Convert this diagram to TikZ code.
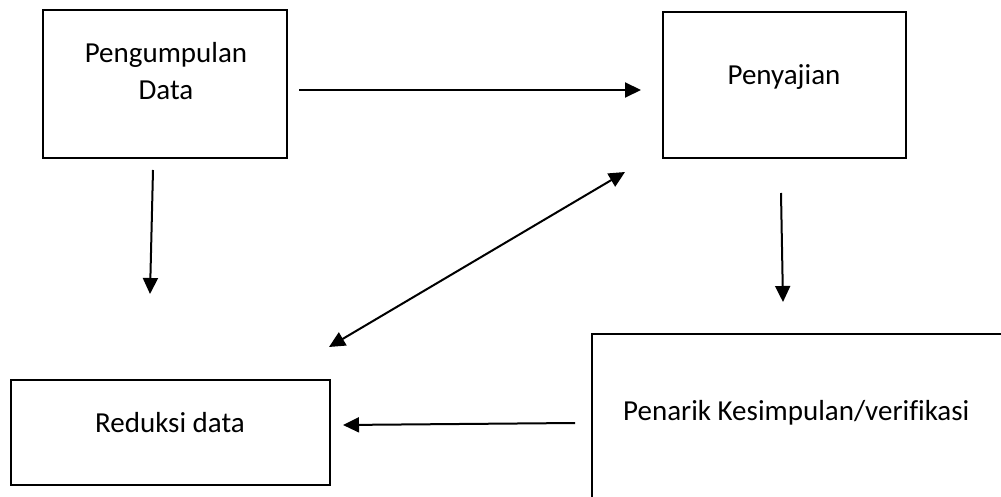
\documentclass[tikz,border=0pt]{standalone}
\usepackage{fontspec}
\setmainfont{Carlito}[Ligatures=NoCommon]
\usetikzlibrary{arrows.meta}
\begin{document}
\begin{tikzpicture}[x=1pt,y=-1pt,
  box/.style={draw=black,line width=2.6pt,minimum width=#1,inner sep=0pt},
  lbl/.style={anchor=base,inner sep=0pt,font=\fontsize{29}{37}\selectfont,align=center},
  conn/.style={line width=2pt,-{Triangle[length=16pt,width=15pt]}},
  conn2/.style={line width=2pt,{Triangle[length=16pt,width=15pt]}-{Triangle[length=16pt,width=15pt]}}]
\useasboundingbox (0,0) rectangle (1001,497);
\fill[white] (0,0) rectangle (1001,497);
% boxes
\node[box=244pt,minimum height=148pt] (peng) at (165,84) {};
\node[box=243pt,minimum height=146pt] (peny) at (784.5,85) {};
\node[box=319pt,minimum height=105pt] (red) at (170.5,432.5) {};
\coordinate (pk1) at (592,334);
\coordinate (pk2) at (1040,540);
\draw[line width=2.6pt] (pk1) rectangle (pk2);
% labels
\node[lbl] (tpeng) at (166,100) {Pengumpulan\\Data};
\node[lbl] (tpeny) at (784,85) {Penyajian};
\node[lbl] (tred) at (170,432) {Reduksi data};
\node[lbl,anchor=base west] (tpk) at (623,420) {Penarik Kesimpulan/verifikasi};
% connector ends
\coordinate (a1s) at (299,90);  \coordinate (a1e) at (641,90);
\coordinate (a2s) at (153,170); \coordinate (a2e) at (150,294);
\coordinate (a3s) at (781,193); \coordinate (a3e) at (783,302);
\coordinate (a4s) at (625,172); \coordinate (a4e) at (329,347);
\coordinate (a5s) at (575,423); \coordinate (a5e) at (343,425);
\draw[conn] (a1s) -- (a1e);
\draw[conn] (a2s) -- (a2e);
\draw[conn] (a3s) -- (a3e);
\draw[conn2] (a4s) -- (a4e);
\draw[conn] (a5s) -- (a5e);
\end{tikzpicture}
\end{document}
